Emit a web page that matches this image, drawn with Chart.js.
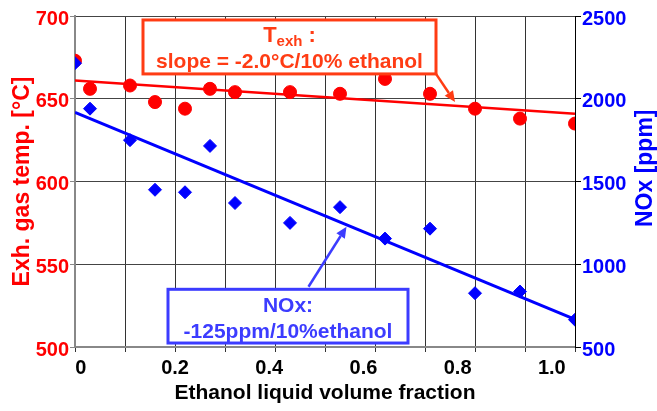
<!DOCTYPE html>
<html lang="en">
<head>
<meta charset="UTF-8">
<title>Exhaust gas temperature and NOx vs ethanol fraction</title>
<script src="https://cdn.jsdelivr.net/npm/chart.js"></script>
<style>
    body { margin: 0; background: #fff; }
    #wrap { width: 657px; height: 411px; }
</style>
</head>
<body>
<div id="wrap"><canvas id="chart" width="657" height="411"></canvas></div>
<script>
// measured points
const ethanolFrac = [0, 0.03, 0.11, 0.16, 0.22, 0.27, 0.32, 0.43, 0.53, 0.62, 0.71, 0.80, 0.89, 1.00];
const exhTemp = [673, 656, 658, 648, 644, 656, 654, 654, 653, 662, 653, 644, 638, 635];
const noxPpm = [2215, 1940, 1750, 1450, 1435, 1715, 1370, 1250, 1345, 1155, 1215, 825, 835, 665];

// linear fits
const fitX = [0, 1.0];
const tempFit = [661, 641];
const noxFit = [1917, 667];

// axis labels
const xTickValues = [0, 0.2, 0.4, 0.6, 0.8, 1.0];

const RED = '#FF0000';
const BLUE = '#0000FF';
const NOTE_RED = '#FF3C14';
const NOTE_BLUE = '#3C3CFF';
const FONT = "'Liberation Sans', Arial, sans-serif";

Chart.defaults.font.family = FONT;

function pts(xs, ys) {
    return xs.map((v, i) => ({ x: v, y: ys[i] }));
}

function drawArrow(ctx, x0, y0, x1, y1, color) {
    let a = Math.atan2(y1 - y0, x1 - x0);
    let len = 11, half = 5;
    ctx.strokeStyle = color;
    ctx.fillStyle = color;
    ctx.lineWidth = 2.5;
    ctx.beginPath();
    ctx.moveTo(x0, y0);
    ctx.lineTo(x1 - Math.cos(a) * len, y1 - Math.sin(a) * len);
    ctx.stroke();
    ctx.beginPath();
    ctx.moveTo(x1, y1);
    ctx.lineTo(x1 - Math.cos(a) * len - Math.sin(a) * half, y1 - Math.sin(a) * len + Math.cos(a) * half);
    ctx.lineTo(x1 - Math.cos(a) * len + Math.sin(a) * half, y1 - Math.sin(a) * len - Math.cos(a) * half);
    ctx.closePath();
    ctx.fill();
}

function drawBox(ctx, l, t, r, b, color) {
    ctx.fillStyle = '#fff';
    ctx.fillRect(l, t, r - l, b - t);
    ctx.strokeStyle = color;
    ctx.lineWidth = 3;
    ctx.strokeRect(l, t, r - l, b - t);
}

const notes = {
    id: 'notes',
    afterDatasetsDraw(chart) {
        const { ctx } = chart;
        const { x, y, y2 } = chart.scales;
        ctx.save();

        // Texh box
        let l = x.getPixelForValue(0.136), r = x.getPixelForValue(0.722);
        let t = y.getPixelForValue(697.6), b = y.getPixelForValue(665);
        drawArrow(ctx, r, b, x.getPixelForValue(0.76), y.getPixelForValue(648), NOTE_RED);
        drawBox(ctx, l, t, r, b, NOTE_RED);
        let cx = (l + r) / 2;
        ctx.fillStyle = NOTE_RED;
        ctx.textBaseline = 'alphabetic';
        ctx.font = 'bold 22px ' + FONT;
        let wT = ctx.measureText('T').width;
        let wC = ctx.measureText(' :').width;
        ctx.font = 'bold 15px ' + FONT;
        let wS = ctx.measureText('exh').width;
        let sx = cx - (wT + wS + wC) / 2;
        ctx.textAlign = 'left';
        ctx.font = 'bold 22px ' + FONT;
        ctx.fillText('T', sx, t + 22);
        ctx.fillText(' :', sx + wT + wS, t + 22);
        ctx.font = 'bold 15px ' + FONT;
        ctx.fillText('exh', sx + wT, t + 26);
        ctx.textAlign = 'center';
        ctx.font = 'bold 21px ' + FONT;
        ctx.fillText('slope = -2.0°C/10% ethanol', cx, t + 48);

        // NOx box
        l = x.getPixelForValue(0.186); r = x.getPixelForValue(0.666);
        t = y2.getPixelForValue(848.6); b = y2.getPixelForValue(524);
        drawArrow(ctx, x.getPixelForValue(0.467), y2.getPixelForValue(864),
            x.getPixelForValue(0.543), y2.getPixelForValue(1227), NOTE_BLUE);
        drawBox(ctx, l, t, r, b, NOTE_BLUE);
        cx = (l + r) / 2;
        ctx.fillStyle = NOTE_BLUE;
        ctx.font = 'bold 21px ' + FONT;
        ctx.fillText('NOx:', cx, t + 22.5);
        ctx.fillText('-125ppm/10%ethanol', cx, t + 49);

        // right axis title, reads bottom to top like the left one
        ctx.translate(y2.right - 11, y2.getPixelForValue(1580));
        ctx.rotate(-Math.PI / 2);
        ctx.textBaseline = 'middle';
        ctx.fillStyle = BLUE;
        ctx.font = 'bold 23px ' + FONT;
        ctx.fillText('NOx [ppm]', 0, 0);

        ctx.restore();
    }
};

new Chart(document.getElementById('chart'), {
    type: 'scatter',
    data: {
        datasets: [
            {
                label: 'NOx',
                data: pts(ethanolFrac, noxPpm),
                yAxisID: 'y2',
                pointStyle: 'rectRot',
                pointRadius: 6.5,
                backgroundColor: BLUE,
                borderColor: BLUE,
                borderWidth: 1,
                order: 0
            },
            {
                label: 'Exh. gas temp.',
                data: pts(ethanolFrac, exhTemp),
                yAxisID: 'y',
                pointStyle: 'circle',
                pointRadius: 6.5,
                backgroundColor: RED,
                borderColor: RED,
                borderWidth: 1,
                order: 1
            },
            {
                label: 'Temp fit',
                data: pts(fitX, tempFit),
                yAxisID: 'y',
                showLine: true,
                borderColor: RED,
                borderWidth: 2.5,
                pointRadius: 0,
                order: 2
            },
            {
                label: 'NOx fit',
                data: pts(fitX, noxFit),
                yAxisID: 'y2',
                showLine: true,
                borderColor: BLUE,
                borderWidth: 3,
                pointRadius: 0,
                order: 3
            }
        ]
    },
    options: {
        responsive: false,
        animation: false,
        layout: { padding: { top: 16, left: 0, right: 0, bottom: 0 } },
        plugins: {
            legend: { display: false },
            tooltip: { enabled: false }
        },
        scales: {
            x: {
                type: 'linear',
                position: 'bottom',
                weight: 0,
                min: 0,
                max: 1,
                ticks: { stepSize: 0.1, display: false },
                grid: { color: '#333', lineWidth: 1, tickLength: 5 },
                border: { color: '#888', width: 2 },
                afterFit: s => { s.height = 5; }
            },
            xl: {
                type: 'linear',
                axis: 'x',
                position: 'bottom',
                weight: 1,
                min: -0.0125,
                max: 1.0493,
                afterBuildTicks: s => { s.ticks = xTickValues.map(v => ({ value: v })); },
                ticks: {
                    padding: 4,
                    color: '#000',
                    font: { size: 20, weight: 'bold' },
                    callback: v => v === 0 ? '0' : v.toFixed(1)
                },
                grid: { display: false, drawTicks: false },
                border: { display: false },
                title: {
                    display: true,
                    text: 'Ethanol liquid volume fraction',
                    color: '#000',
                    font: { size: 21, weight: 'bold', lineHeight: 1.2 },
                    padding: { top: 0, bottom: 5 }
                },
                afterFit: s => { s.height = 59; }
            },
            y: {
                position: 'left',
                min: 500,
                max: 700,
                ticks: {
                    stepSize: 50,
                    padding: 1,
                    labelOffset: 3,
                    color: RED,
                    font: { size: 20, weight: 'bold' }
                },
                grid: { color: '#444', lineWidth: 1, tickLength: 5, tickColor: '#888' },
                border: { color: '#888', width: 2 },
                title: {
                    display: true,
                    text: 'Exh. gas temp. [°C]',
                    color: RED,
                    font: { size: 23, weight: 'bold', lineHeight: 1 },
                    padding: { top: 11, bottom: 0 }
                },
                afterFit: s => { s.width = 75; }
            },
            y2: {
                position: 'right',
                min: 500,
                max: 2500,
                ticks: {
                    stepSize: 500,
                    padding: 1,
                    labelOffset: 3,
                    color: BLUE,
                    font: { size: 20, weight: 'bold' },
                    callback: v => String(v)
                },
                grid: { drawOnChartArea: false, tickLength: 6, tickColor: '#000' },
                border: { color: '#000', width: 1 },
                afterFit: s => { s.width = 82; }
            }
        }
    },
    plugins: [notes]
});
</script>
</body>
</html>
